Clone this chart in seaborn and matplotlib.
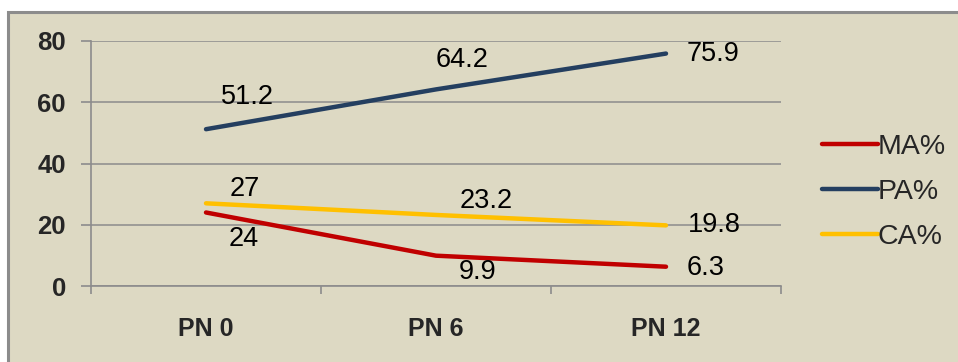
import matplotlib
matplotlib.use("Agg")
import matplotlib.pyplot as plt
from matplotlib.patches import Rectangle
from matplotlib.ticker import FixedLocator
import pandas as pd
import seaborn as sns

# Values per time point
categories = ["PN 0", "PN 6", "PN 12"]
ma_values = [24, 9.9, 6.3]
pa_values = [51.2, 64.2, 75.9]
ca_values = [27, 23.2, 19.8]
series_names = ["MA%", "PA%", "CA%"]
y_ticks = [0, 20, 40, 60, 80]

colors = {"MA%": "#C00000", "PA%": "#243F60", "CA%": "#FFC000"}

rows = []
for name, vals in zip(series_names, [ma_values, pa_values, ca_values]):
    for i, (cat, v) in enumerate(zip(categories, vals)):
        rows.append({"pos": i, "period": cat, "value": v, "series": name})
df = pd.DataFrame(rows)

sns.set_style("white")
plt.rcParams["font.family"] = ["Liberation Sans", "DejaVu Sans"]

fig = plt.figure(figsize=(9.58, 3.62), dpi=100)
fig.patch.set_facecolor("white")

# Beige panel with grey frame, behind the axes
panel = Rectangle((8 / 958, -0.05), 1.05, (362 - 12) / 362 + 0.05,
                  transform=fig.transFigure, facecolor="#DDD9C3",
                  edgecolor="#8C8C8C", linewidth=2.2, zorder=-10)
fig.add_artist(panel)

ax = fig.add_axes([91 / 958, 1 - 286 / 362, (781 - 91) / 958, (286 - 41) / 362])
ax.set_facecolor("none")
ax.set_zorder(1)

sns.lineplot(data=df, x="pos", y="value", hue="series", hue_order=series_names,
             palette=colors, linewidth=3.2, ax=ax, legend=True)

ax.set_xlim(-0.5, 2.5)
ax.set_ylim(0, 80)
ax.set_yticks(y_ticks)
ax.set_yticklabels([str(t) for t in y_ticks], fontsize=18.5, fontweight="bold")
ax.set_xticks(range(len(categories)))
ax.set_xticklabels(categories, fontsize=18, fontweight="bold")
ax.xaxis.set_minor_locator(FixedLocator([-0.5, 0.5, 1.5, 2.5]))
ax.tick_params(axis="x", which="major", bottom=True, length=0, pad=22)
ax.tick_params(axis="x", which="minor", bottom=True, length=6, width=1.2,
               color="#8C8C8C", direction="out")
ax.tick_params(axis="y", left=True, length=7, width=1.2, color="#8C8C8C",
               direction="out", pad=11)
ax.set_xlabel("")
ax.set_ylabel("")

ax.grid(axis="y", color="#8C8C8C", linewidth=1.1)
ax.grid(axis="x", visible=False)
ax.set_axisbelow(True)
for side in ["top", "right"]:
    ax.spines[side].set_visible(False)
for side in ["left", "bottom"]:
    ax.spines[side].set_color("#8C8C8C")
    ax.spines[side].set_linewidth(1.2)

# Data labels (offsets in points)
offsets = {
    "PA%": [((30, 23), "center"), ((19, 21), "center"), ((15, 0), "left")],
    "CA%": [((28, 10), "center"), ((36, 10), "center"), ((16, 0), "left")],
    "MA%": [((27, -19), "center"), ((30, -12), "center"), ((15, -1), "left")],
}
for name, vals in zip(series_names, [ma_values, pa_values, ca_values]):
    for i, v in enumerate(vals):
        (dx, dy), ha = offsets[name][i]
        ax.annotate(f"{v:g}", (i, v), xytext=(dx, dy), textcoords="offset points",
                    ha=ha, va="center", fontsize=19.5, color="black",
                    annotation_clip=False)

handles, labels = ax.get_legend_handles_labels()
for h in handles:
    h.set_linewidth(3.2)
ax.legend(handles, labels, loc="center left", bbox_to_anchor=(808 / 958, 1 - 192 / 362),
          bbox_transform=fig.transFigure, frameon=False, fontsize=20.5,
          handlelength=1.95, handletextpad=0.0, labelspacing=0.68, borderpad=0)

fig.savefig("out.png", dpi=100)
